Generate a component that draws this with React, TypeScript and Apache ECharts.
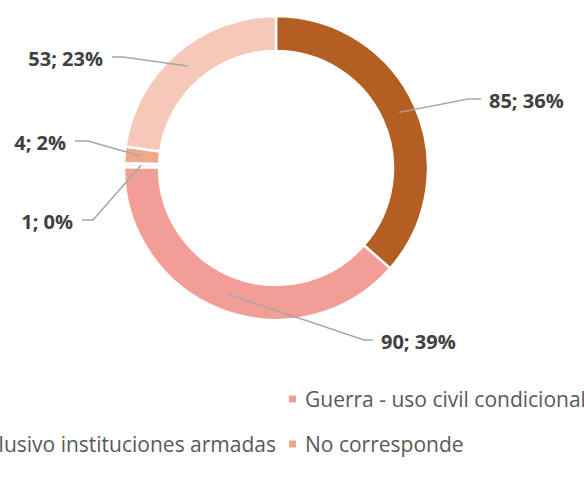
import React, { useEffect, useRef } from "react";
import * as echarts from "echarts";

const categories = [
  "Civil",
  "Guerra - uso civil condicional",
  "Guerra - uso exclusivo instituciones armadas",
  "No corresponde",
  "Doble uso",
];
const values = [85, 90, 1, 4, 53];
const colors = ["#B35E22", "#F29E97", "#FBEDE8", "#F0A889", "#F5C8BA"];
const legendRow1 = ["Guerra - uso civil condicional"];
const legendRow2a = ["Guerra - uso exclusivo instituciones armadas"];
const legendRow2b = ["No corresponde"];

// label placement (layout only): elbow point, horizontal end point, side
const labelPlacement = [
  { elbow: [468, 99], end: [481, 99], side: "right" },
  { elbow: [364, 340], end: [373, 340], side: "right" },
  { elbow: [93, 220], end: [82, 220], side: "left" },
  { elbow: [88, 141], end: [75, 141], side: "left" },
  { elbow: [123, 57], end: [112, 57], side: "left" },
];

const FONT = "'Open Sans', sans-serif";
const CX = 276;
const CY = 168;
const R_IN = 117;
const R_OUT = 152;
const R_MID = 135;

export default function App() {
  const ref = useRef<HTMLDivElement>(null);
  useEffect(() => {
    if (!ref.current) return;
    const chart = echarts.init(ref.current, undefined, { renderer: "svg" });
    const legendBase = {
      itemWidth: 9,
      itemHeight: 9,
      itemGap: 11,
      icon: "rect",
      padding: 0,
      orient: "horizontal",
      textStyle: {
        fontSize: 21,
        lineHeight: 24,
        color: "#595959",
        fontFamily: FONT,
        padding: [0, 0, 0, 3],
      },
      selectedMode: false,
    };
    const pieData = categories.map((name, i) => ({ name, value: values[i] }));
    chart.setOption({
      animation: false,
      color: colors,
      legend: [
        { ...legendBase, data: legendRow1, left: 287, top: 387 },
        { ...legendBase, data: legendRow2a, right: 308, top: 432 },
        { ...legendBase, data: legendRow2b, left: 287, top: 432 },
      ],
      series: [
        {
          type: "pie",
          z: 2,
          center: [CX, CY],
          radius: [R_IN, R_OUT],
          startAngle: 90,
          clockwise: true,
          itemStyle: { borderColor: "#ffffff", borderWidth: 2.5 },
          label: { show: false },
          labelLine: { show: false },
          data: pieData,
        },
        {
          type: "pie",
          z: 4,
          silent: true,
          legendHoverLink: false,
          center: [CX, CY],
          radius: [R_IN, R_OUT],
          startAngle: 90,
          clockwise: true,
          percentPrecision: 0,
          avoidLabelOverlap: false,
          itemStyle: { color: "rgba(0,0,0,0)", borderWidth: 0 },
          label: {
            show: true,
            position: "outside",
            formatter: "{c}; {d}%",
            fontSize: 20,
            fontWeight: "bold",
            color: "#404040",
            fontFamily: FONT,
          },
          labelLine: {
            show: true,
            showAbove: true,
            length: 20,
            length2: 15,
            lineStyle: { color: "#A6A6A6", width: 1.5 },
          },
          labelLayout: (params: any) => {
            const p = labelPlacement[params.dataIndex];
            const pts = params.labelLinePoints;
            let start = [CX, CY];
            if (pts && pts[0]) {
              const dx = pts[0][0] - CX;
              const dy = pts[0][1] - CY;
              const d = Math.sqrt(dx * dx + dy * dy) || 1;
              start = [CX + (dx / d) * R_MID, CY + (dy / d) * R_MID];
            }
            const right = p.side === "right";
            return {
              x: right ? p.end[0] + 8 : p.end[0] - 9,
              y: p.end[1] + 1,
              align: right ? "left" : "right",
              verticalAlign: "middle",
              labelLinePoints: [start, p.elbow, p.end],
            };
          },
          data: pieData,
        },
      ],
    });
    return () => chart.dispose();
  }, []);
  return (
    <div
      ref={ref}
      style={{ position: "absolute", left: 0, top: 0, width: 584, height: 498 }}
    />
  );
}
